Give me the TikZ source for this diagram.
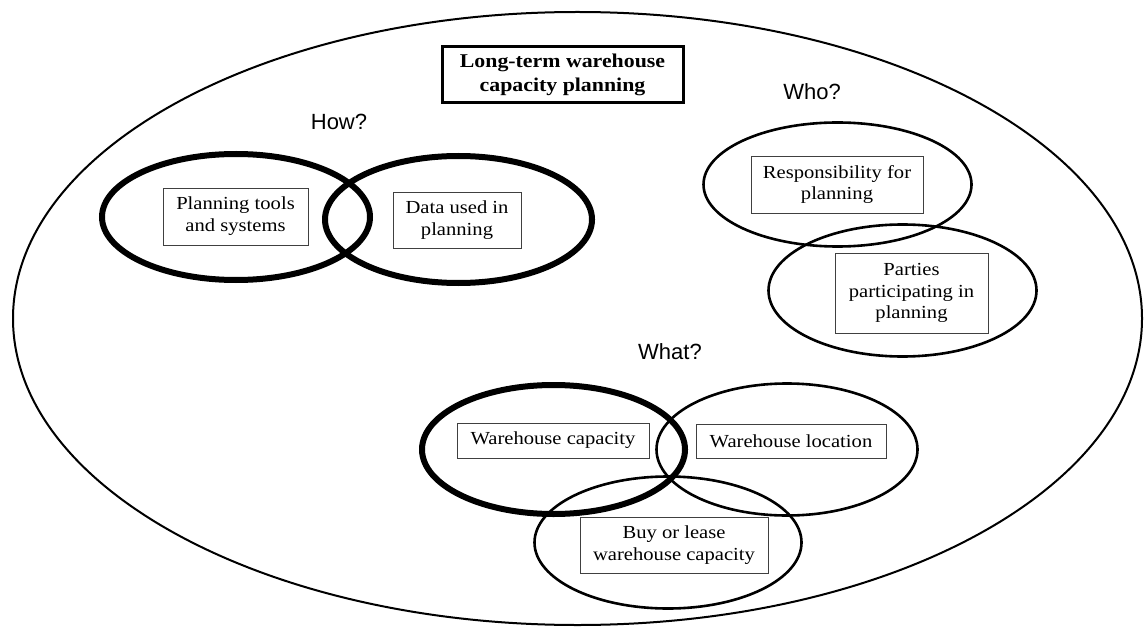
\documentclass[tikz,border=0pt]{standalone}
\usepackage{fontspec}
\setmainfont{Liberation Serif}[FakeStretch=1.12]
\newfontfamily\labelfont{Liberation Sans}
\usetikzlibrary{shapes.geometric}
\begin{document}
\begin{tikzpicture}[x=1pt,y=-1pt,
  ring/.style={draw=black,ellipse,inner sep=0pt,line width=#1},
  ring/.default=2.6pt,
  topic/.style={draw=black!75,line width=0.9pt,align=center,inner sep=0pt,
    font=\fontsize{18.4}{21.8}\selectfont},
  question/.style={font=\labelfont\fontsize{22}{26}\selectfont},
  title/.style={draw=black,line width=3pt,align=center,inner sep=0pt,
    font=\bfseries\fontsize{19.5}{23.5}\selectfont}]
\useasboundingbox (0,0) rectangle (1147,628);

% outer frame
\node[ring=2pt,minimum width=1129pt,minimum height=613pt] (frame) at (577.5,318.5) {};

% heading
\node[title,minimum width=241pt,minimum height=56pt] (head) at (562.5,75)
  {Long-term warehouse\\capacity planning};

% How?
\node[question] (how) at (339,122) {How?};
\node[ring=6pt,minimum width=268pt,minimum height=126pt] (toolsring) at (236,217) {};
\node[ring=6pt,minimum width=267pt,minimum height=127pt] (dataring) at (458.5,219.5) {};
\node[topic,minimum width=145pt,minimum height=57pt] (tools) at (235.5,216.5)
  {Planning tools\\and systems};
\node[topic,minimum width=128pt,minimum height=56pt] (data) at (457,220)
  {Data used in\\planning};

% Who?
\node[question] (who) at (812,92) {Who?};
\node[ring,minimum width=268pt,minimum height=124pt] (respring) at (837.5,184.5) {};
\node[ring,minimum width=268pt,minimum height=132pt] (partring) at (902.5,290.5) {};
\node[topic,minimum width=172pt,minimum height=57pt] (resp) at (837,184.5)
  {Responsibility for\\planning};
\node[topic,minimum width=153pt,minimum height=80pt] (parties) at (911.5,293)
  {Parties\\participating in\\planning};

% What?
\node[question] (what) at (670,352) {What?};
\node[ring=6pt,minimum width=263pt,minimum height=129pt] (capring) at (553.5,449.5) {};
\node[ring,minimum width=261pt,minimum height=132pt] (locring) at (787,449.5) {};
\node[ring,minimum width=267pt,minimum height=132pt] (buyring) at (668,542.5) {};
\node[topic,minimum width=192pt,minimum height=35pt] (cap) at (553,440.5)
  {Warehouse capacity};
\node[topic,minimum width=190pt,minimum height=34pt] (loc) at (791,441)
  {Warehouse location};
\node[topic,minimum width=188pt,minimum height=56pt] (buy) at (674,545)
  {Buy or lease\\warehouse capacity};
\end{tikzpicture}
\end{document}
